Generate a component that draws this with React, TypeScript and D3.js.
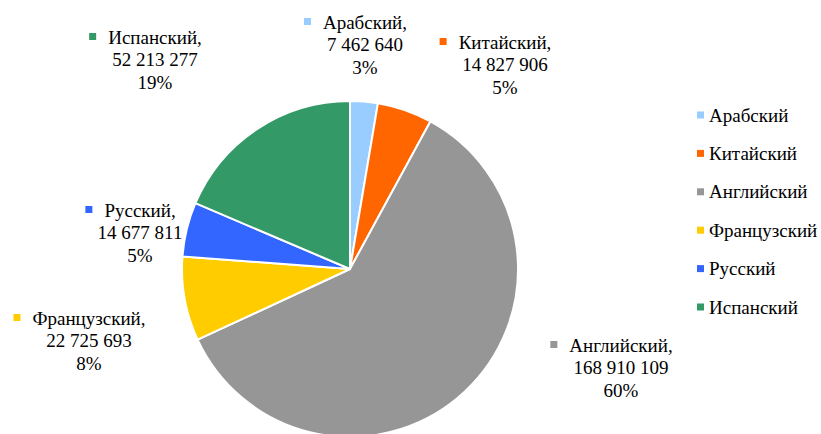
import React, { useLayoutEffect, useRef, useState } from 'react';
import * as d3 from 'd3';

const languages = ['Арабский', 'Китайский', 'Английский', 'Французский', 'Русский', 'Испанский'];
const speakers = [7462640, 14827906, 168910109, 22725693, 14677811, 52213277];
const colors = ['#99CCFF', '#FF6600', '#969696', '#FFCC00', '#3366FF', '#339966'];

// label block centres (x of text centre, y of first line centre), placed by hand like Excel does
const labelPos: [number, number][] = [
  [365, 22],
  [505, 42],
  [621, 345],
  [89, 318],
  [140, 210],
  [155, 37],
];

const FONT = "'Liberation Serif'";
const FONT_SIZE = 19;
const LINE_H = 22.5;

type Slice = { name: string; value: number; color: string };

const App: React.FC = () => {
  const firstLines = useRef<(SVGTextElement | null)[]>([]);
  const [widths, setWidths] = useState<number[]>(languages.map(() => 96));

  useLayoutEffect(() => {
    setWidths(firstLines.current.map((n) => (n ? n.getComputedTextLength() : 96)));
  }, []);

  const data: Slice[] = languages.map((name, i) => ({ name, value: speakers[i], color: colors[i] }));
  const total = d3.sum(speakers);
  const fmt = d3.formatLocale({ decimal: ',', thousands: '\u00a0', grouping: [3], currency: ['', ''] }).format(',d');

  const arcs = d3.pie<Slice>().sort(null).value((d) => d.value)(data);
  const arc = d3.arc<d3.PieArcDatum<Slice>>().innerRadius(0).outerRadius(168);

  return (
    <div style={{ position: 'absolute', left: 0, top: 0, width: 821, height: 434, background: '#fff', overflow: 'hidden' }}>
      <svg width={821} height={434} style={{ display: 'block', fontFamily: FONT }}>
        {/* pie */}
        <g transform="translate(350,269)">
          {arcs.map((a) => (
            <path key={a.data.name} d={arc(a) || ''} fill={a.data.color} stroke="#fff" strokeWidth={2} strokeLinejoin="round" />
          ))}
        </g>

        {/* data labels */}
        {data.map((d, i) => {
          const [cx, cy] = labelPos[i];
          const lines = [d.name + ',', fmt(d.value), Math.round((d.value / total) * 100) + '%'];
          return (
            <g key={d.name}>
              <rect x={cx - widths[i] / 2 - 19} y={cy - 4} width={7} height={7} fill={d.color} />
              {lines.map((l, k) => (
                <text
                  key={k}
                  ref={k === 0 ? (el) => { firstLines.current[i] = el; } : undefined}
                  x={cx}
                  y={cy + k * LINE_H}
                  dy="0.35em"
                  textAnchor="middle"
                  style={{ fontFamily: FONT, fontSize: FONT_SIZE }}
                  fill="#000"
                >
                  {l}
                </text>
              ))}
            </g>
          );
        })}

        {/* legend */}
        <g transform="translate(697,115)">
          {data.map((d, i) => (
            <g key={d.name} transform={`translate(0,${i * 38.4})`}>
              <rect x={0} y={-3.5} width={7} height={7} fill={d.color} />
              <text x={12} dy="0.35em" style={{ fontFamily: FONT, fontSize: 19 }} fill="#000">
                {d.name}
              </text>
            </g>
          ))}
        </g>
      </svg>
    </div>
  );
};

export default App;
